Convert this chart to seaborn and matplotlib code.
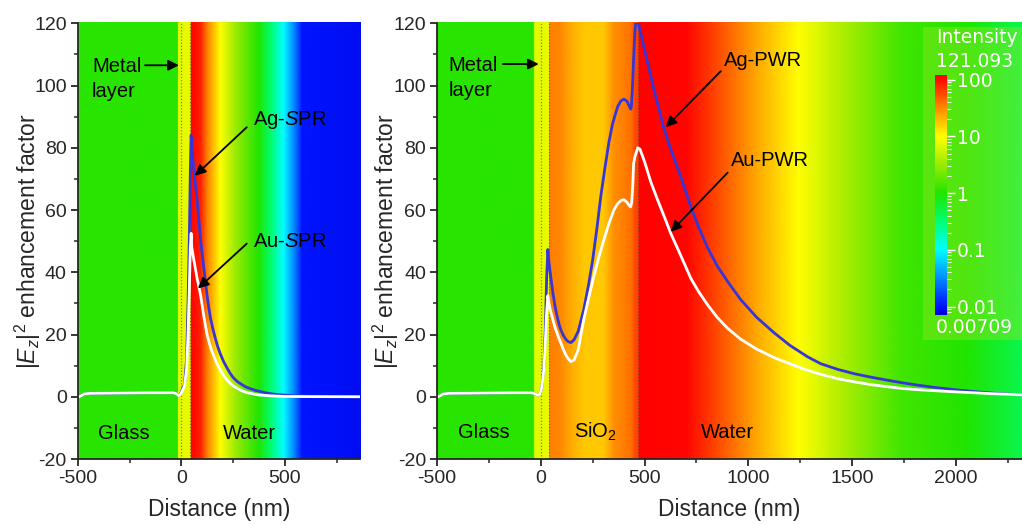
import numpy as np
import pandas as pd
import matplotlib
matplotlib.use("Agg")
import matplotlib.pyplot as plt
import seaborn as sns
from matplotlib.image import NonUniformImage
from matplotlib.colors import LinearSegmentedColormap, Normalize, LogNorm
from matplotlib.ticker import MultipleLocator, LogLocator, NullFormatter
from matplotlib.cm import ScalarMappable
from matplotlib.patches import Rectangle

# ---- curve data ----
ag_spr_x = [-500, -490, -470, -440, -300, -150, -40, -25, -14, -5, 5, 15, 25, 32, 38, 43, 47, 52, 60,
            68, 76, 84, 92, 100, 108, 116, 124, 132, 140, 152, 165, 176, 188, 204, 220, 235, 251, 270,
            290, 310, 333, 355, 380, 405, 430, 465, 500, 550, 600, 700, 862]
ag_spr_y = [0, 0.1, 0.9, 1.1, 1.2, 1.3, 1.3, 1.0, 0.5, 0.8, 2.5, 4, 12, 30, 50, 72, 84, 79, 73,
            68, 63, 57, 51, 46, 41.5, 37, 32.5, 28.8, 25.4, 21.8, 18.5, 16, 13.8, 11.3, 9.3, 7.6, 6.1, 4.9,
            4.0, 3.2, 2.6, 2.1, 1.7, 1.3, 1.0, 0.7, 0.5, 0.3, 0.2, 0.1, 0.0]

au_spr_x = [-500, -490, -470, -440, -300, -150, -40, -25, -14, -5, 5, 15, 25, 32, 38, 43, 47, 50, 55,
            60, 68, 76, 84, 92, 100, 108, 116, 124, 136, 148, 160, 172, 186, 200, 218, 237, 257, 277,
            297, 317, 340, 370, 430, 500, 600, 862]
au_spr_y = [0, 0.1, 0.9, 1.1, 1.2, 1.3, 1.3, 1.0, 0.4, 0.7, 2.0, 3.5, 9, 20, 34, 48, 52.5, 48, 46,
            44, 41, 38, 35.5, 33, 29.5, 26, 23, 20, 17, 14.5, 12.5, 10.6, 8.8, 7.2, 5.6, 4.2, 3.2, 2.4,
            1.8, 1.3, 1.0, 0.6, 0.3, 0.1, 0.05, 0.0]

ag_pwr_x = [-500, -490, -470, -440, -300, -150, -45, -30, -15, -5, 5, 15, 22, 28, 34, 38, 45, 58, 70,
            78, 87, 96, 108, 120, 132, 145, 160, 180, 207, 230, 250, 270, 289, 310, 328, 345, 360, 371,
            385, 400, 415, 425, 433, 436, 442, 448, 453, 458, 465, 472, 500, 544, 592, 626, 670, 723,
            760, 804, 850, 900, 963, 1040, 1123, 1200, 1286, 1349, 1430, 1510, 1590, 1671, 1750, 1830,
            1910, 1990, 2080, 2170, 2250, 2318]
ag_pwr_y = [0, 0.1, 0.9, 1.1, 1.2, 1.3, 1.3, 1.0, 0.5, 0.8, 3, 10, 22, 38, 47.3, 44, 40, 33.5, 28.5,
            26, 23.5, 21.6, 19.8, 18.5, 17.7, 17.4, 18.3, 21, 28, 36, 44, 54, 64.4, 74, 81.7, 87.5, 91, 93.3,
            95, 95.6, 95, 93.5, 92.4, 93, 100, 110, 117, 121, 120.8, 119.5, 111.5, 99, 86.5, 79.5, 71.5, 61,
            54.5, 47.8, 42, 37, 31.2, 25.5, 20.6, 16.5, 12.8, 10.6, 8.8, 7.4, 6.3, 5.3, 4.4, 3.6,
            2.9, 2.3, 1.7, 1.2, 0.85, 0.6]

au_pwr_x = [-500, -490, -470, -440, -300, -150, -45, -30, -15, -5, 5, 15, 22, 28, 34, 38, 45, 58, 70,
            78, 87, 96, 108, 120, 132, 145, 160, 180, 207, 230, 255, 280, 304, 330, 352, 370, 385, 400,
            415, 425, 433, 438, 443, 447, 453, 460, 467, 478, 500, 530, 563, 600, 626, 670, 723, 760,
            804, 850, 900, 963, 1040, 1123, 1200, 1280, 1349, 1430, 1510, 1590, 1671, 1750, 1830, 1910,
            1990, 2080, 2170, 2250, 2318]
au_pwr_y = [0, 0.1, 0.9, 1.1, 1.2, 1.3, 1.3, 1.0, 0.5, 0.8, 3, 9, 18, 27, 32.5, 30.5, 28, 24.8, 22,
            20.5, 18.8, 17.4, 15.3, 13.5, 12.2, 11.3, 11.8, 15, 24.8, 31.5, 38.6, 45, 50.5, 56, 60, 62, 63, 63.3,
            62.5, 61.5, 61, 62.5, 68, 75, 77, 78.5, 80, 79.5, 75.5, 69, 63.2, 57, 52.5, 46, 38, 33.8,
            29.5, 25.5, 22, 18.5, 15.3, 12.6, 10.6, 8.6, 7.2, 5.8, 4.8, 3.9, 3.2, 2.6, 2.2, 1.9,
            1.6, 1.3, 1.0, 0.8, 0.6]

# ---- background field intensity along distance ----
left_bg_x = [-500, -22, -18, 40, 44, 90, 125, 185, 260, 370, 430, 490, 540, 580, 862]
left_bg_i = [1.1, 1.1, 7.0, 8.0, 115, 80, 32, 10, 3.2, 1.0, 0.32, 0.1, 0.032, 0.01, 0.009]

right_bg_x = [-500, -38, -32, 36, 40, 90, 150, 207, 300, 350, 430, 455, 467, 471, 700, 800, 930,
              1050, 1240, 1450, 1730, 2050, 2318]
right_bg_i = [1.1, 1.1, 7.0, 8.0, 35, 32, 22, 17, 17, 30, 40, 60, 60, 115, 110, 70, 40,
              22, 10, 4, 1.4, 1.0, 0.45]

cb_ticks = [0.01, 0.1, 1, 10, 100]
cb_labels = ["0.01", "0.1", "1", "10", "100"]
i_min, i_max = 0.00709, 121.093

sns.set_style("ticks")
plt.rcParams["font.family"] = ["Liberation Sans", "DejaVu Sans"]
plt.rcParams["mathtext.fontset"] = "custom"
plt.rcParams["mathtext.rm"] = "Liberation Sans"
plt.rcParams["mathtext.it"] = "Liberation Sans:italic"
plt.rcParams["axes.unicode_minus"] = False

lg_min, lg_max = np.log10(i_min), np.log10(i_max)
nodes = [(lg_min, (0, 0, 0.85)), (-2.0, (0, 0.08, 1)), (-1.5, (0, 0.55, 1)), (-1.0, (0, 1, 1)),
         (-0.5, (0, 1, 0.45)), (0.0, (0.12, 0.9, 0)), (0.5, (0.6, 0.92, 0)), (1.0, (1, 1, 0)),
         (1.5, (1, 0.55, 0)), (2.0, (1, 0.05, 0)), (lg_max, (1, 0, 0))]
cmap = LinearSegmentedColormap.from_list(
    "field", [((v - lg_min) / (lg_max - lg_min), c) for v, c in nodes])

fig = plt.figure(figsize=(10.22, 5.25), dpi=100)
ax1 = fig.add_axes([0.0763, 0.1257, 0.2757, 0.830])
ax2 = fig.add_axes([0.4276, 0.1257, 0.5724, 0.830])

blue = "#3535d8"


def background(ax, bx, bi, xmax):
    im = NonUniformImage(ax, interpolation="bilinear", extent=(-500, xmax, -20, 120),
                         cmap=cmap, norm=Normalize(lg_min, lg_max))
    lg = np.log10(np.array(bi))
    im.set_data(np.array(bx, float), np.array([-20.0, 120.0]), np.vstack([lg, lg]))
    im.set_zorder(0)
    ax.add_image(im)


def style(ax, xmax, major, minor):
    ax.set_xlim(-500, xmax)
    ax.set_ylim(-20, 120)
    ax.set_xticks(major)
    ax.set_xticks(minor, minor=True)
    ax.set_yticks(range(-20, 121, 20))
    ax.yaxis.set_minor_locator(MultipleLocator(10))
    ax.tick_params(which="major", length=5, width=1.3, direction="out", labelsize=14, pad=3)
    ax.tick_params(which="minor", length=3, width=1.1, direction="out")
    for s in ["top", "right"]:
        ax.spines[s].set_visible(False)
    for s in ["left", "bottom"]:
        ax.spines[s].set_linewidth(1.3)
    ax.set_xlabel("Distance (nm)", fontsize=16.5, labelpad=8)
    ax.set_ylabel(r"$|\mathit{E}_z|^2$ enhancement factor", fontsize=16.5)


def arrow(ax, tip, tail):
    ax.annotate("", xy=tip, xytext=tail,
                arrowprops=dict(arrowstyle="-|>", color="black", lw=1.3, mutation_scale=16,
                                shrinkA=0, shrinkB=0))


# ---- left panel ----
background(ax1, left_bg_x, left_bg_i, 862)
for xv in [0, 40]:
    ax1.axvline(xv, color="#444444", ls=(0, (1, 1.5)), lw=0.9, alpha=0.6, zorder=1)
sns.lineplot(x=ag_spr_x, y=ag_spr_y, ax=ax1, color=blue, lw=2, estimator=None, sort=False, legend=False)
sns.lineplot(x=au_spr_x, y=au_spr_y, ax=ax1, color="white", lw=2, estimator=None, sort=False, legend=False)
style(ax1, 862, [-500, 0, 500], [-250, 250, 750])
ax1.yaxis.set_label_coords(-0.125, 0.5)

tk = dict(fontsize=14.5, color="black", va="baseline")
ax1.text(-432, 104.3, "Metal", **tk)
ax1.text(-432, 96.2, "layer", **tk)
arrow(ax1, (-12, 106.5), (-176, 106.5))
ax1.text(345, 87.2, r"Ag-$\mathit{S}$PR", **tk)
arrow(ax1, (65, 71), (316, 86.6))
ax1.text(345, 48, r"Au-$\mathit{S}$PR", **tk)
arrow(ax1, (80, 34.8), (316, 49.2))
ax1.text(-403, -13.5, "Glass", **tk)
ax1.text(200, -13.5, "Water", **tk)

# ---- right panel ----
background(ax2, right_bg_x, right_bg_i, 2318)
for xv in [0, 38, 467]:
    ax2.axvline(xv, color="#444444", ls=(0, (1, 1.5)), lw=0.9, alpha=0.6, zorder=1)
sns.lineplot(x=ag_pwr_x, y=ag_pwr_y, ax=ax2, color=blue, lw=2, estimator=None, sort=False, legend=False)
sns.lineplot(x=au_pwr_x, y=au_pwr_y, ax=ax2, color="white", lw=2, estimator=None, sort=False, legend=False)
style(ax2, 2318, list(range(-500, 2001, 500)), list(range(-250, 2251, 500)))
ax2.yaxis.set_label_coords(-0.062, 0.5)

ax2.text(-443, 104.6, "Metal", **tk)
ax2.text(-443, 96.6, "layer", **tk)
arrow(ax2, (-10, 106.9), (-183, 106.9))
ax2.text(881, 106.2, "Ag-PWR", **tk)
arrow(ax2, (602, 86.6), (867, 104.6))
ax2.text(915, 74, "Au-PWR", **tk)
arrow(ax2, (626, 53), (900, 72))
ax2.text(-400, -13.2, "Glass", **tk)
ax2.text(159, -13.2, r"SiO$_2$", **tk)
ax2.text(771, -13.2, "Water", **tk)

# ---- intensity colour bar ----
ax2.add_patch(Rectangle((0.903, 0.352), 0.097, 0.597, transform=fig.transFigure,
                        facecolor=(0.6, 0.9, 0.15), alpha=0.4, edgecolor="none",
                        zorder=1, clip_on=False))
cax = fig.add_axes([0.915, 0.40, 0.0117, 0.457])
sm = ScalarMappable(norm=LogNorm(i_min, i_max), cmap=cmap)
cb = fig.colorbar(sm, cax=cax, ticks=cb_ticks)
cb.set_ticklabels(cb_labels)
cb.outline.set_visible(False)
cax.yaxis.set_minor_locator(LogLocator(subs=np.arange(2, 10)))
cax.yaxis.set_minor_formatter(NullFormatter())
cax.tick_params(which="major", colors="white", length=6, width=1, labelsize=13.5, pad=1)
cax.tick_params(which="minor", colors="white", length=3, width=0.8)
for lab in cax.get_yticklabels():
    lab.set_family("DejaVu Sans")
wt = dict(color="white", fontsize=13.5, family="DejaVu Sans", va="center", ha="left")
fig.text(0.916, 0.928, "Intensity", **wt)
fig.text(0.916, 0.882, "121.093", **wt)
fig.text(0.916, 0.377, "0.00709", **wt)

fig.savefig("out.png", dpi=100)
